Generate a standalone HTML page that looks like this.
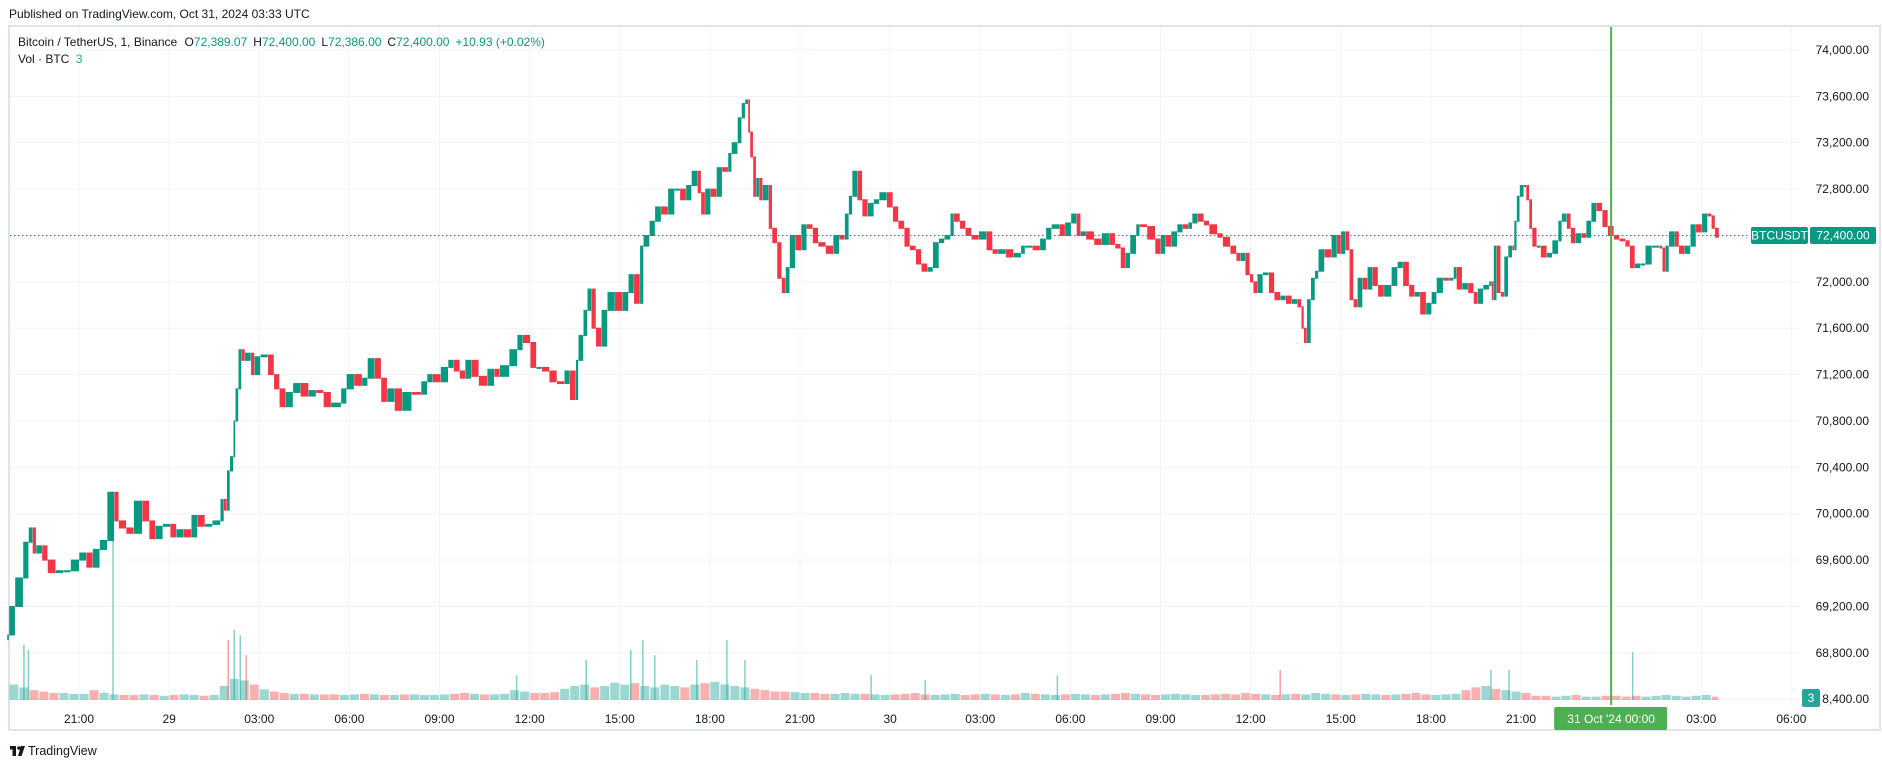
<!DOCTYPE html>
<html><head><meta charset="utf-8">
<style>
html,body{margin:0;padding:0;background:#fff;}
svg{display:block;font-family:"Liberation Sans",Arial,sans-serif;}
</style></head>
<body>
<svg id="chart" width="1882" height="768" viewBox="0 0 1882 768" xmlns="http://www.w3.org/2000/svg">
  <text x="9" y="18" font-size="12" fill="#131722">Published on TradingView.com, Oct 31, 2024 03:33 UTC</text>
  <rect x="9" y="26" width="1871" height="704" fill="#fff" stroke="#e0e3eb" stroke-width="2"/>
  <g id="grid"></g>
  <g id="vol"></g>
  <g id="candles"></g>
  <g id="axes"></g>
  <g font-size="12">
    <text x="18" y="46" fill="#131722">Bitcoin / TetherUS, 1, Binance <tspan dx="4">O</tspan><tspan fill="#089981">72,389.07</tspan><tspan dx="6">H</tspan><tspan fill="#089981">72,400.00</tspan><tspan dx="6">L</tspan><tspan fill="#089981">72,386.00</tspan><tspan dx="6">C</tspan><tspan fill="#089981">72,400.00</tspan><tspan dx="6" fill="#089981">+10.93 (+0.02%)</tspan></text>
    <text x="18" y="63" fill="#131722">Vol · BTC <tspan dx="3" fill="#26a69a">3</tspan></text>
  </g>
  <g>
    <rect x="10" y="746" width="6" height="3.5" fill="#131722"/>
    <rect x="12.5" y="746" width="3.5" height="10" fill="#131722"/>
    <circle cx="19" cy="748" r="1.8" fill="#131722"/>
    <path d="M21 746 L25 746 L21.5 756 L18 756 Z" fill="#131722"/>
    <text x="28" y="755" font-size="12.5" fill="#131722">TradingView</text>
  </g>
</svg>
<script>
// ---- data (minutes since Oct 28 18:40 UTC, 1-min BTCUSDT closes sampled) ----
const times = [0,12,28,39,47,54,66,77,93,108,123,140,154,167,181,196,210,219,234,249,266,280,292,307,322,334,349,364,376,391,406,422,429,435,441,448,452,458,464,471,483,490,502,517,529,540,552,567,582,598,613,628,643,663,674,689,705,716,730,743,755,770,785,804,823,835,846,862,877,888,900,911,923,938,955,969,980,999,1015,1026,1041,1053,1064,1079,1094,1109,1120,1132,1137,1147,1155,1163,1172,1183,1195,1210,1225,1237,1248,1260,1267,1279,1290,1302,1316,1329,1340,1352,1363,1375,1382,1390,1401,1413,1424,1436,1443,1455,1463,1470,1476,1480,1486,1492,1498,1505,1517,1524,1534,1543,1551,1559,1570,1582,1593,1605,1616,1631,1646,1658,1669,1677,1684,1694,1704,1715,1727,1738,1753,1765,1776,1788,1799,1811,1822,1834,1845,1857,1868,1880,1887,1899,1910,1922,1937,1952,1964,1975,1991,2006,2021,2029,2044,2059,2071,2082,2098,2109,2121,2132,2140,2151,2167,2182,2197,2209,2220,2229,2239,2251,2258,2273,2289,2300,2309,2321,2333,2344,2355,2363,2374,2386,2397,2413,2424,2439,2451,2459,2469,2478,2485,2493,2504,2516,2527,2539,2550,2562,2573,2581,2586,2592,2600,2608,2615,2627,2641,2652,2660,2669,2677,2685,2693,2703,2713,2723,2734,2746,2761,2773,2784,2796,2807,2818,2830,2841,2851,2864,2876,2885,2891,2902,2914,2925,2933,2944,2956,2961,2965,2971,2979,2986,2994,3002,3006,3011,3017,3025,3030,3036,3042,3051,3059,3071,3082,3094,3101,3111,3119,3128,3140,3150,3160,3170,3182,3193,3205,3216,3228,3237,3247,3258,3268,3281,3297,3302,3308,3315,3327,3335,3346,3358,3369,3381,3392,3400,3407,3415];
const closes = [68954,69200,69446,69754,69877,69661,69723,69600,69492,69508,69508,69600,69661,69539,69692,69769,70185,69938,69877,69831,70108,69938,69785,69892,69908,69800,69862,69800,69985,69892,69908,69938,70123,70031,70369,70492,70800,71077,71415,71323,71385,71200,71354,71369,71200,71077,70923,71046,71123,71015,71062,71046,70923,70954,71077,71200,71108,71169,71338,71169,70969,71077,70892,71046,71031,71138,71200,71138,71262,71323,71231,71169,71323,71185,71108,71246,71185,71277,71415,71538,71477,71262,71262,71231,71138,71123,71231,70985,71323,71538,71754,71938,71600,71446,71754,71908,71754,71908,72062,71815,72308,72400,72523,72646,72585,72800,72800,72708,72831,72954,72769,72585,72800,72738,72985,72954,73108,73200,73415,73538,73569,73292,73077,72738,72892,72708,72831,72462,72338,72031,71908,72123,72400,72277,72492,72462,72338,72308,72246,72400,72369,72585,72738,72954,72708,72569,72677,72708,72769,72646,72523,72462,72308,72277,72154,72092,72123,72338,72369,72400,72585,72523,72462,72400,72369,72431,72277,72246,72277,72215,72246,72308,72308,72277,72369,72462,72492,72400,72508,72585,72400,72431,72369,72323,72415,72323,72292,72123,72246,72400,72492,72477,72369,72246,72400,72308,72431,72492,72462,72508,72585,72523,72492,72415,72385,72308,72246,72185,72246,72062,72000,71908,72062,72077,71908,71846,71877,71815,71846,71785,71600,71477,71846,72031,72092,72277,72215,72400,72246,72431,72277,71846,71785,72031,71938,72123,71969,71877,71969,72123,72169,71969,71877,71908,71723,71815,71908,72031,72015,72031,72123,71938,71985,71908,71815,71938,71969,72000,71846,72308,71908,71877,72215,72308,72277,72523,72738,72831,72831,72708,72462,72308,72308,72215,72246,72354,72523,72585,72462,72338,72415,72385,72523,72677,72615,72477,72400,72369,72354,72308,72123,72154,72154,72308,72308,72292,72092,72308,72431,72308,72246,72308,72492,72431,72585,72569,72462,72385,72400];
// volume per 20-minute bin (BTC)
const volumes = [55,45,35,30,25,25,22, 22,35,25,20,18,18,20,18,15,18,20,18,15,18, 50,75,70,55,38,30,
 25,22,22,20,20,20,18,20,22,20,18,18,20,20,18,18,20,22,25,22,20,20,22, 35,30,25,25,28,
 40,50,55,45,50,62,55,60,50,45,55,50,45,55,60,65,55,50,45,40, 35,30,30,28,25,25,22,22,25,22,
 22,20,18,20,22,25,20,18,20,22, 18,20,22,20,18,20,25,22,20,18, 20,22,20,18,20,22,25,22,20,18,
 20,22,20,18,18,20,22,20,25,22, 20,18,20,22,20,25,22,20,18,20, 22,20,18,20,22,25,20,18,20,22,
 35,45,50,40,35,30,25, 15,15,12,15,18,12,12,15,15,12,15,12,15,18,15,12,15,18,12];
const spikeTimes = [30,39,208,438,450,462,474,1014,1153,1242,1266,1290,1374,1434,1470,1722,1830,2094,2539,2960,2996,3243];
const spikeVols = [138,125,412,150,175,162,112,62,100,125,150,112,100,150,100,62,50,62,75,75,75,120];
const priceTicks = [74000,73600,73200,72800,72400,72000,71600,71200,70800,70400,70000,69600,69200,68800,68400];
const timeTickMins = [140,320,500,680,860,1040,1220,1400,1580,1760,1940,2120,2300,2480,2660,2840,3020,3200,3380,3560];
const timeTickLabels = ["21:00","29","03:00","06:00","09:00","12:00","15:00","18:00","21:00","30","03:00","06:00","09:00","12:00","15:00","18:00","21:00","","03:00","06:00"];
const lastPrice = 72400;

const NS = "http://www.w3.org/2000/svg";
const UP = "#089981", DN = "#f23645";
function X(t){ return 79 + (t - 140) * 0.5007; }
function Y(p){ return 50 + (74000 - p) * 0.11593; }
const VOLBASE = 700, VOLK = 0.4, VOLBINK = 0.28;
function mk(tag, attrs, parent){ const e = document.createElementNS(NS, tag); for (const k in attrs) e.setAttribute(k, attrs[k]); parent.appendChild(e); return e; }
function closeAt(t){ let c = closes[0]; for (let i=0;i<times.length;i++){ if (times[i] <= t) c = closes[i]; else break; } return c; }

const grid = document.getElementById('grid');
priceTicks.forEach(p => {
  const l = mk('line', {x1:10, x2:1800, y1:Y(p), y2:Y(p), stroke:'#f0f3fa', 'stroke-width':1}, grid);
  
  
});
timeTickMins.forEach(t => {
  const l = mk('line', {x1:X(t), x2:X(t), y1:27, y2:705, stroke:'#f0f3fa', 'stroke-width':1}, grid);
  
  
});

// volume
const vol = document.getElementById('vol');
volumes.forEach((v, i) => {
  const t0 = i*20, t1 = Math.min(i*20+20, 3415);
  const up = closeAt(t1) >= closeAt(t0);
  const h = v * VOLBINK;
  const r = mk('rect', {x:X(t0)+0.5, y:VOLBASE-h, width:Math.max(X(t1)-X(t0)-1,1), height:h, fill: up ? 'rgba(38,166,154,0.45)' : 'rgba(239,83,80,0.45)'}, vol);
  
  
});
spikeTimes.forEach((t, i) => {
  const up = closeAt(t) >= closeAt(t-6);
  const h = spikeVols[i] * VOLK;
  const r = mk('rect', {x:X(t)-0.75, y:VOLBASE-h, width:1.5, height:h, fill: up ? 'rgba(38,166,154,0.55)' : 'rgba(239,83,80,0.55)'}, vol);
  
  
});

// candles
const cg = document.getElementById('candles');
for (let i=0;i<closes.length;i++){
  const o = i===0 ? closes[0]-40 : closes[i-1];
  const c = closes[i];
  const x0 = i===0 ? X(times[0])-2 : X(times[i-1]);
  const x1 = X(times[i]);
  const yt = Math.min(Y(o),Y(c)), yb = Math.max(Y(o),Y(c));
  const r = mk('rect', {x:x0+0.3, y:yt-0.5, width:Math.max(x1-x0-0.3,1.5), height:Math.max(yb-yt,1)+1, fill: c>=o ? UP : DN}, cg);
  
  
}

// axes & overlays
const ax = document.getElementById('axes');
const pl = mk('line', {x1:10, x2:1750, y1:Y(lastPrice), y2:Y(lastPrice), stroke:UP, 'stroke-width':1, 'stroke-dasharray':'1.5 2.5'}, ax);


priceTicks.forEach(p => {
  if (p === 68400) return;
  const t = mk('text', {x:1869, y:Y(p)+4, 'font-size':12, fill:'#131722', 'text-anchor':'end'}, ax);
  t.textContent = p.toLocaleString('en-US',{minimumFractionDigits:2});
  
  
});
const pt = mk('text', {x:1869, y:Y(68400)+4, 'font-size':12, fill:'#131722', 'text-anchor':'end'}, ax);
pt.textContent = '8,400.00';


timeTickMins.forEach((t, i) => {
  if (!timeTickLabels[i]) return;
  const e = mk('text', {x:X(t), y:723, 'font-size':12, fill:'#131722', 'text-anchor':'middle'}, ax);
  e.textContent = timeTickLabels[i];
  
  
});
const vx = X(3200);
const vl = mk('line', {x1:vx, x2:vx, y1:27, y2:705, stroke:'#4caf50', 'stroke-width':2}, ax);


const db = mk('rect', {x:vx-57, y:707, width:113, height:23, rx:2, fill:'#4caf50'}, ax);


const dt = mk('text', {x:vx, y:723, 'font-size':12, fill:'#fff', 'text-anchor':'middle'}, ax);
dt.textContent = "31 Oct '24   00:00";


const yl = Y(lastPrice);
const s1 = mk('rect', {x:1751, y:yl-8.5, width:57, height:17, rx:2, fill:UP}, ax);


const s1t = mk('text', {x:1779.5, y:yl+4, 'font-size':12, fill:'#fff', 'text-anchor':'middle'}, ax);
s1t.textContent = 'BTCUSDT';


const s2 = mk('rect', {x:1810, y:yl-8.5, width:66, height:17, rx:2, fill:UP}, ax);


const s2t = mk('text', {x:1843, y:yl+4, 'font-size':12, fill:'#fff', 'text-anchor':'middle'}, ax);
s2t.textContent = '72,400.00';


const vb = mk('rect', {x:1802, y:689, width:18, height:18, rx:2, fill:'#26a69a'}, ax);


const vt = mk('text', {x:1811, y:702, 'font-size':12, fill:'#fff', 'text-anchor':'middle'}, ax);
vt.textContent = '3';


</script>
</body></html>
